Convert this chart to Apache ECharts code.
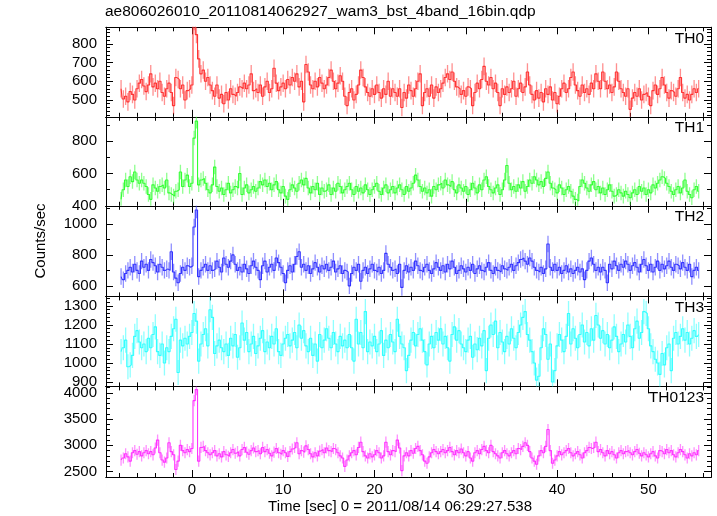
<!DOCTYPE html>
<html><head><meta charset="utf-8">
<script src="https://cdn.jsdelivr.net/npm/echarts@6/dist/echarts.min.js"></script>
<style>html,body{margin:0;padding:0;background:#fff}#c{width:717px;height:516px}</style>
</head><body><div id="c"></div>
<script>
const tStart = -7.75, binWidth = 0.25;
const titleText = 'ae806026010_20110814062927_wam3_bst_4band_16bin.qdp';
const xTitle = 'Time [sec] 0 = 2011/08/14 06:29:27.538';
const yTitle = 'Counts/sec';
const panelNames = ['TH0','TH1','TH2','TH3','TH0123'];

const th0 = [
560,505,520,490,545,530,500,560,590,610,
575,545,580,640,570,590,560,600,540,520,
560,590,540,470,620,610,560,580,500,550,
560,580,920,850,720,640,660,600,620,580,
550,520,580,510,530,480,540,500,560,530,
520,540,570,560,590,560,580,640,550,560,
540,580,520,570,600,540,560,670,590,550,
570,590,560,610,580,620,600,640,570,600,
490,690,650,580,560,600,570,620,590,560,
580,620,660,600,560,590,630,600,520,470,
540,560,500,530,580,660,620,570,540,520,
560,530,580,540,510,560,530,600,520,560,
540,520,560,460,540,510,580,550,520,560,
600,640,470,540,560,520,580,510,570,540,
560,590,620,640,610,650,600,570,560,530,
550,520,570,560,470,540,590,560,610,680,
600,580,620,560,590,540,470,560,530,570,
540,560,600,520,560,590,540,570,650,580,
530,500,550,510,540,490,560,530,570,500,
540,480,520,560,590,540,560,620,650,580,
550,520,580,540,560,530,590,560,640,600,
560,650,600,560,580,540,570,650,600,560,
540,520,560,450,510,540,520,560,500,530,
540,520,470,550,580,530,560,620,580,540,
510,550,540,520,560,620,540,510,530,500,
530,560,540,560];

const th1 = [
440,500,560,520,580,550,610,560,540,560,
540,520,470,440,530,510,490,520,530,510,
560,480,470,460,490,500,610,520,560,590,
520,540,820,925,530,560,570,540,500,480,
530,640,520,490,510,470,500,540,480,500,
520,510,600,470,510,530,480,500,520,490,
510,550,530,560,520,540,500,530,550,500,
480,520,460,440,500,530,510,490,540,560,
530,570,510,480,520,500,540,470,510,490,
500,530,470,510,490,540,520,480,500,520,
540,500,470,520,490,510,480,530,500,470,
500,520,540,490,470,510,530,480,500,520,
480,510,530,500,470,520,490,510,540,590,
560,520,490,510,480,500,460,520,500,530,
540,510,560,530,520,550,500,480,530,510,
490,520,470,500,540,510,480,530,500,560,
580,520,500,480,510,530,470,500,560,650,
540,500,520,490,530,510,550,490,520,560,
540,580,560,530,550,520,570,610,540,510,
500,480,530,510,470,500,520,490,460,440,
430,520,560,540,510,490,530,550,500,520,
480,510,470,500,530,490,460,470,500,480,
460,490,470,450,480,500,470,520,490,510,
470,500,480,530,510,540,560,580,570,540,
520,490,470,500,520,480,510,560,490,470,
450,500,520,490];

const th2 = [
660,640,680,700,720,690,740,700,680,760,
720,740,700,770,750,730,690,740,720,700,
710,700,820,690,650,620,680,720,700,730,
720,730,980,1090,660,700,720,740,700,730,
700,710,760,720,690,780,740,720,760,800,
740,700,720,690,740,710,680,730,760,720,
700,640,730,760,690,720,740,700,780,750,
720,680,620,700,730,690,740,790,820,720,
740,700,730,680,710,750,720,690,730,710,
740,700,720,760,690,710,730,680,700,690,
600,680,720,700,740,630,700,720,680,710,
740,700,690,720,680,700,810,740,720,700,
710,680,740,590,700,730,690,720,700,760,
730,700,690,720,740,700,680,710,750,720,
700,730,690,740,710,760,720,680,700,730,
710,690,720,700,740,680,710,730,700,690,
720,750,700,680,720,700,690,730,710,700,
720,740,700,730,750,770,780,760,740,780,
760,720,700,690,720,680,710,870,720,700,
740,700,720,680,700,730,690,710,680,700,
720,690,710,640,700,760,780,740,700,720,
690,720,700,620,740,710,760,730,700,740,
720,760,740,700,730,750,720,690,740,770,
730,700,740,690,720,760,700,740,710,730,
760,720,700,740,730,710,750,720,700,740,
660,700,720,700];

const th3 = [
1060,1080,1120,980,990,1040,1140,1170,1110,1080,
1100,1060,1130,1080,1150,1190,1060,1040,1100,1000,
1080,1060,1140,1180,1230,950,1120,1090,1130,1100,
1140,1160,1260,1220,1010,1100,1150,1180,1090,1280,
1240,1050,1090,1120,1080,1060,1100,1040,1130,1090,
1150,1030,1080,1210,1120,1160,1060,1100,1140,1050,
1090,1130,1170,1060,1110,1080,1140,1100,1180,1060,
1040,1100,1130,1150,1090,1120,1160,1080,1200,1130,
1170,1090,1060,1130,1040,1100,1010,1150,1080,1120,
1180,1130,1080,1160,1100,1060,1140,1090,1120,1080,
1150,1080,1010,1230,1100,1160,1080,1270,1060,1110,
1090,1140,1060,1100,1170,1040,1120,1080,1150,1110,
1060,1230,1140,1100,1080,960,1040,1120,1160,1090,
1150,1180,1120,1060,990,1100,1140,1080,1160,1120,
1180,1100,1140,1080,1010,1150,1190,1120,1170,1100,
1080,1060,1120,1140,1030,1100,1070,1130,1090,1170,
960,1130,1200,1150,1220,1080,1160,1110,1060,1140,
1100,1180,1130,1080,1160,1200,1240,1270,1150,1120,
1060,1000,910,930,1080,1180,1150,1020,1100,900,
960,1090,1150,1120,1060,1140,1260,1100,1180,1130,
1080,1150,1200,1110,1160,1090,1180,1120,1250,1200,
1130,1170,1100,1150,1080,1120,1190,1140,1060,1100,
1150,1110,1200,1140,1080,1180,1220,1130,1160,1270,
1260,1180,1090,1060,1020,1000,940,1050,990,1080,
1100,960,1130,1160,1100,1140,1180,1120,1160,1100,
1130,1170,1140,1150];

const th0123 = [
2720,2760,2840,2780,2700,2860,2900,2830,2880,2800,
2860,2900,2840,2880,2820,2950,3100,2860,2720,2680,
2760,3050,2880,2820,2540,2700,3000,2900,2860,2920,
2880,2940,3850,4060,2700,2960,2980,2900,2860,2820,
2860,2900,2800,2840,2780,2880,2820,2790,2860,2920,
2850,2880,2800,2920,2960,2870,2830,2900,2950,2880,
2900,2840,2960,2880,2920,2850,2800,2870,2940,2860,
2830,2900,2860,2790,2880,2930,2960,3050,2840,2900,
2870,2990,2920,2840,2780,2860,2800,2890,2920,2860,
2950,2900,2880,2940,2920,2860,2800,2760,2600,2720,
2800,2860,2900,2820,2960,3060,2880,2800,2760,2840,
2780,2820,2900,2860,2760,2800,3060,2880,2820,2900,
2880,3100,2950,2520,2800,2860,2800,2900,2850,2940,
2980,2900,2820,2700,2660,2780,2860,2920,2880,2840,
2880,2920,2860,2900,2960,2880,2820,2900,2860,2930,
2860,2800,2880,2760,2700,2860,2900,2840,2920,2980,
2900,2860,3000,2880,2840,2800,2760,2860,2900,2840,
2800,2860,2900,2840,2940,2920,2980,3050,3000,2880,
2760,2700,2640,2800,2900,2860,2980,3300,2900,2660,
2720,2800,2880,2820,2860,2900,2940,2860,2800,2840,
2880,2820,2760,2860,2900,2960,2940,2960,3060,2880,
2920,2860,2800,2900,2840,2880,2820,2760,2860,2900,
2840,2880,2900,2860,2820,2880,2920,2850,2800,2860,
2820,2780,2840,2880,2800,2760,2900,2880,2840,2920,
2860,2900,2820,2780,2860,2920,2880,2820,2760,2840,
2800,2860,2820,2900];

const panelValues = [th0, th1, th2, th3, th0123];
const errs = [47, 45, 53, 66, 106];
const yMin = [410, 400, 532, 877, 2398];
const yMax = [889, 952, 1117, 1350, 4121];
const yMajor = [[500,600,700,800],[400,600,800],[600,800,1000],[900,1000,1100,1200,1300],[2500,3000,3500,4000]];
const yMinorStep = [20, 100, 100, 20, 100];
const xMajor = [0,10,20,30,40,50];
const xMinorStep = 2;
const xMin = -9.4, xMax = 56.85;

const bounds = [27.3, 116.8, 205.8, 296.4, 386.4, 477];
const colors = ['#ff3333','#33ff33','#3333ff','#33ffff','#ff33ff'];
const FONT = '"Liberation Sans", Arial, sans-serif';

const xMinor = [];
for (let v = Math.ceil(xMin / xMinorStep) * xMinorStep; v <= xMax; v += xMinorStep) xMinor.push(v);

const grids = [], xAxes = [], yAxes = [], series = [], graphics = [];
const plain = v => String(v);

function xAx(p, pos, ticks, len, showLabel) {
  return {
    type: 'value', gridIndex: p, position: pos, min: xMin, max: xMax,
    axisLine: { show: true, onZero: false, lineStyle: { color: '#000', width: 1 } },
    axisTick: { show: true, inside: true, length: len, customValues: ticks, lineStyle: { color: '#000', width: 1 } },
    axisLabel: { show: showLabel, customValues: xMajor, formatter: plain, color: '#000', fontSize: 15, fontFamily: FONT, margin: 5 },
    splitLine: { show: false }
  };
}
function yAx(p, pos, ticks, len, showLabel) {
  return {
    type: 'value', gridIndex: p, position: pos, min: yMin[p], max: yMax[p],
    axisLine: { show: true, onZero: false, lineStyle: { color: '#000', width: 1 } },
    axisTick: { show: true, inside: true, length: len, customValues: ticks, lineStyle: { color: '#000', width: 1 } },
    axisLabel: { show: showLabel, customValues: yMajor[p], formatter: plain, color: '#000', fontSize: 15, fontFamily: FONT, margin: 9, hideOverlap: false },
    splitLine: { show: false }
  };
}

for (let p = 0; p < 5; p++) {
  grids.push({ left: 106, width: 605, top: bounds[p], height: bounds[p + 1] - bounds[p], show: false });
  const xi = xAxes.length, yi = yAxes.length;
  xAxes.push(xAx(p, 'bottom', xMajor, 7, p === 4));
  xAxes.push(xAx(p, 'bottom', xMinor, 4, false));
  xAxes.push(xAx(p, 'top', xMajor, 7, false));
  xAxes.push(xAx(p, 'top', xMinor, 4, false));
  const yMinor = [];
  for (let v = Math.ceil(yMin[p] / yMinorStep[p]) * yMinorStep[p]; v <= yMax[p]; v += yMinorStep[p]) yMinor.push(v);
  yAxes.push(yAx(p, 'left', yMajor[p], 7, true));
  yAxes.push(yAx(p, 'left', yMinor, 4, false));
  yAxes.push(yAx(p, 'right', yMajor[p], 7, false));
  yAxes.push(yAx(p, 'right', yMinor, 4, false));

  const vals = panelValues[p];
  const data = vals.map((v, i) => [tStart + i * binWidth, v]);
  const err = errs[p];
  const col = colors[p];
  series.push({
    type: 'custom', xAxisIndex: xi, yAxisIndex: yi, clip: true, silent: true,
    data: data,
    renderItem: function (params, api) {
      const x = api.value(0), y = api.value(1);
      const a = api.coord([x, y - err]), b = api.coord([x, y + err]);
      return { type: 'line', shape: { x1: a[0], y1: a[1], x2: b[0], y2: b[1] },
        style: { stroke: col, lineWidth: 1.3, opacity: 0.55 } };
    },
    z: 2
  });
  series.push({
    type: 'line', xAxisIndex: xi, yAxisIndex: yi, data: data, step: 'middle',
    showSymbol: false, symbol: 'none', clip: true, silent: true,
    lineStyle: { color: col, width: 1.1 }, z: 3
  });
  graphics.push({ type: 'text', x: 704, y: bounds[p] + 11, style: { text: panelNames[p], font: '15.5px ' + FONT, fill: '#000', align: 'right', verticalAlign: 'middle' } });
}

graphics.push({ type: 'text', x: 105, y: 12, style: { text: titleText, font: '15.5px ' + FONT, fill: '#000', align: 'left', verticalAlign: 'middle' } });
graphics.push({ type: 'text', x: 41, y: 241, rotation: Math.PI / 2, style: { text: yTitle, font: '15px ' + FONT, fill: '#000', align: 'center', verticalAlign: 'middle' } });
graphics.push({ type: 'text', x: 400, y: 507, style: { text: xTitle, font: '15px ' + FONT, fill: '#000', align: 'center', verticalAlign: 'middle' } });

const chart = echarts.init(document.getElementById('c'), null, { renderer: 'canvas' });
chart.setOption({
  animation: false,
  backgroundColor: '#fff',
  grid: grids, xAxis: xAxes, yAxis: yAxes, series: series, graphic: graphics
});
</script></body></html>
